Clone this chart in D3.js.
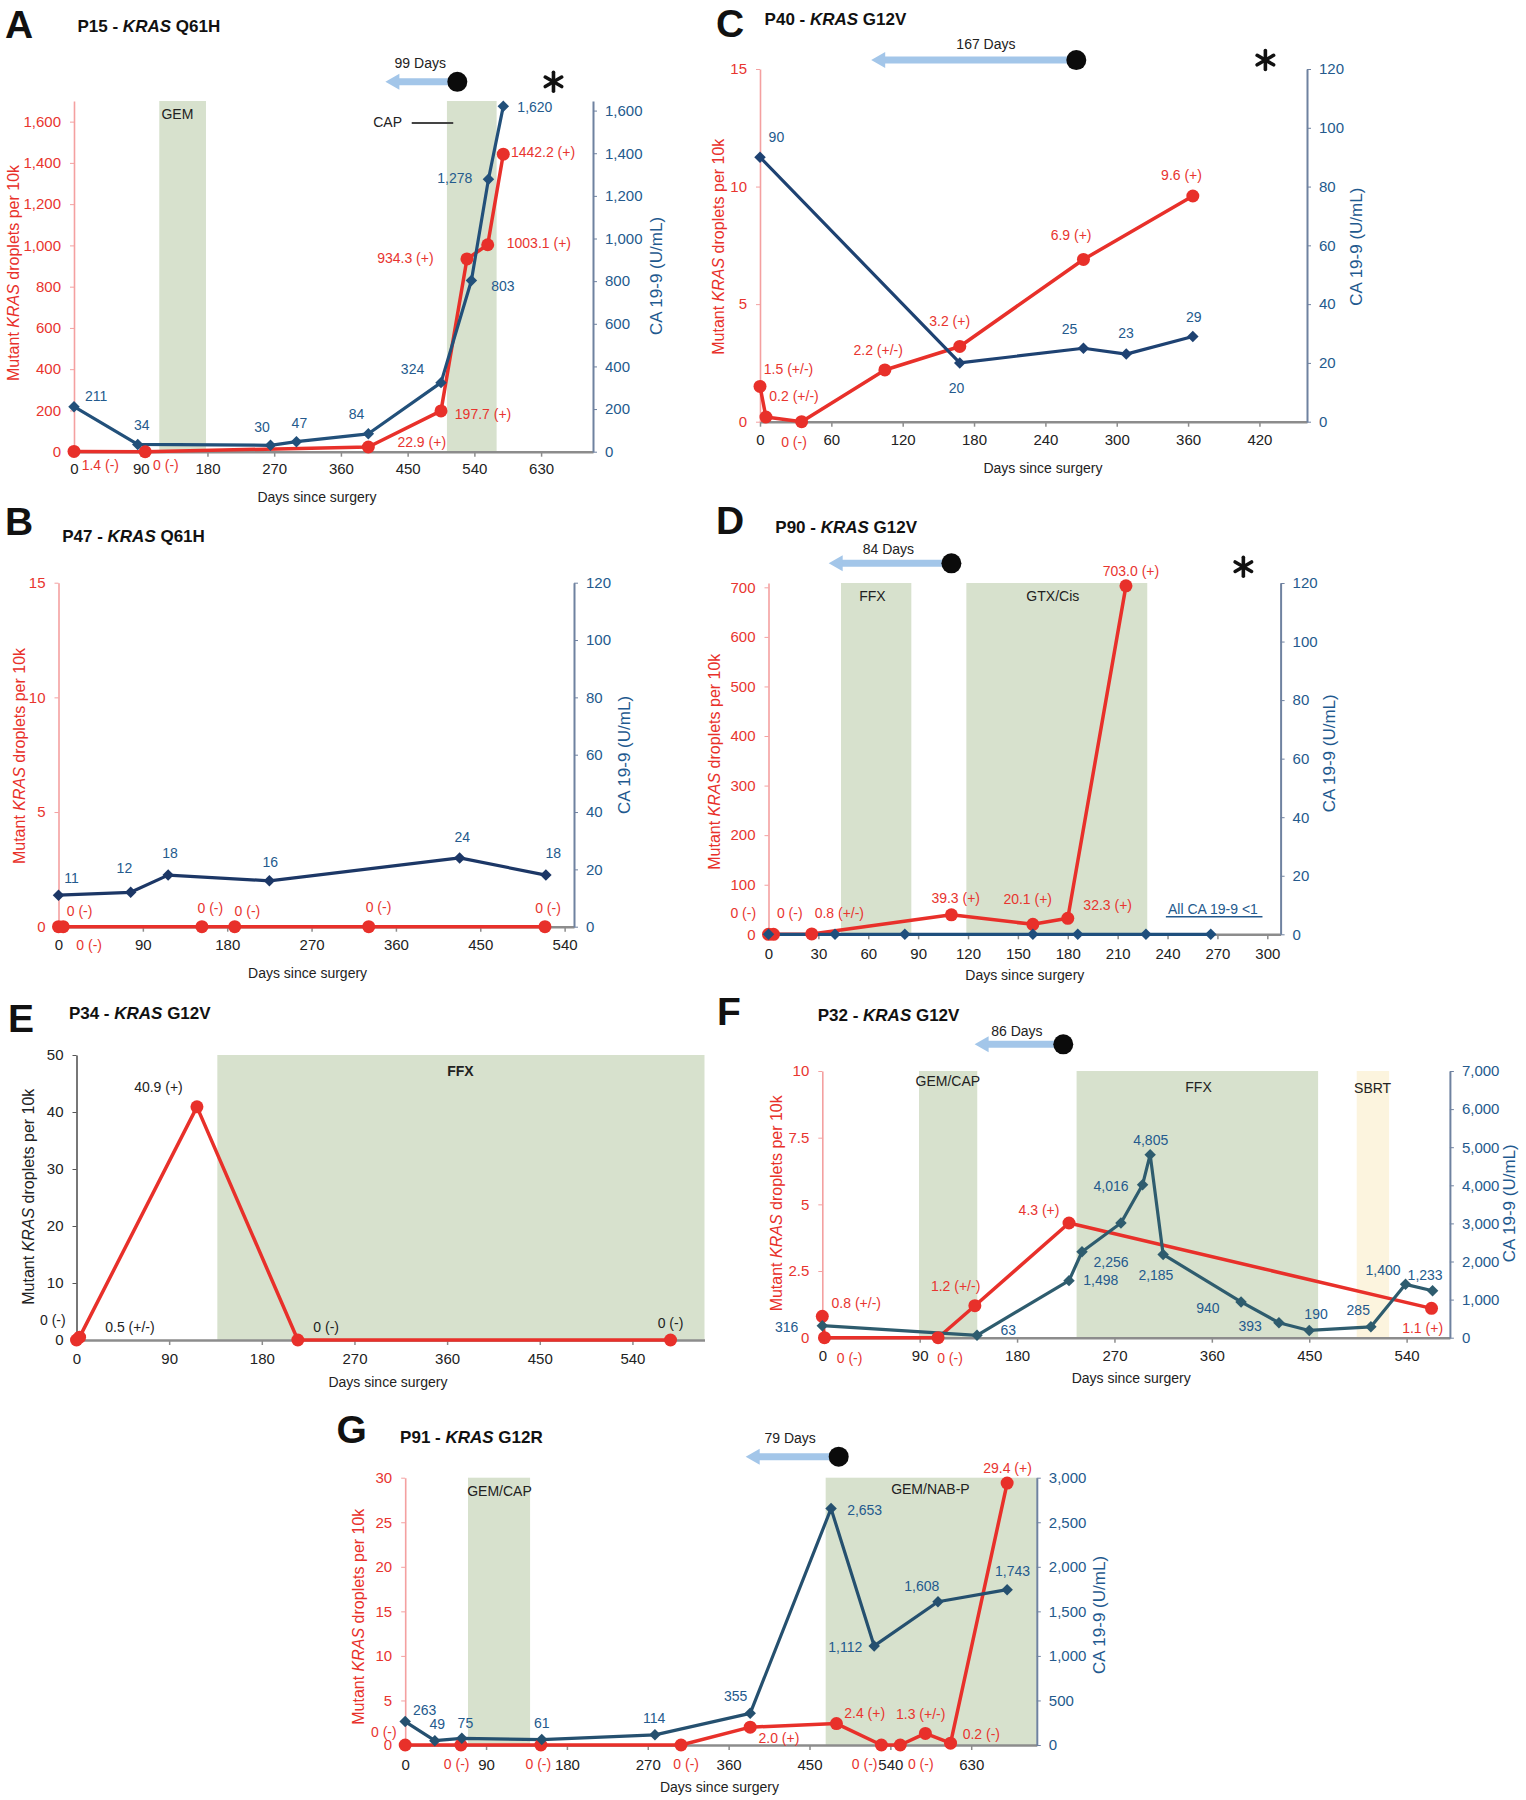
<!DOCTYPE html>
<html><head><meta charset="utf-8">
<script src="https://cdn.jsdelivr.net/npm/d3@7"></script>
<style>body{margin:0;background:#fff}</style>
</head><body>
<svg id="chart" width="1526" height="1800" style="background:#fff"></svg>
<script>
// ---------------- DATA (days since surgery / values) ----------------
// Panel A  P15 - KRAS Q61H
const A_krasDays = [0, 96, 397, 495, 530, 558, 579];
const A_krasVals = [1.4, 0, 22.9, 197.7, 934.3, 1003.1, 1442.2];
const A_caDays   = [0, 86, 265, 300, 397, 495, 536, 559, 579];
const A_caVals   = [211, 34, 30, 47, 84, 324, 803, 1278, 1620];
const A_xTicks   = [0, 90, 180, 270, 360, 450, 540, 630];
const A_yLTicks  = [0, 200, 400, 600, 800, 1000, 1200, 1400, 1600];
const A_yRTicks  = [0, 200, 400, 600, 800, 1000, 1200, 1400, 1600];
const A_bands    = [[115, 178, "tx"], [503, 570, "tx"]];
const A_bandLabels = [[139.5, 1637, "GEM"], [423, 1598, "CAP"]];
const A_krasLabels = [[35.5,-64,"1.4 (-)"],[124,-64,"0 (-)"],[469,45.6,"22.9 (+)"],[551.7,181,"197.7 (+)"],[447,940,"934.3 (+)"],[627,1010,"1003.1 (+)"],[632.6,1451,"1442.2 (+)"]];
const A_caLabels = [[30,262,"211"],[91.4,125,"34"],[253.6,117,"30"],[304,136,"47"],[381,177,"84"],[456.6,390,"324"],[578.5,776,"803"],[513.6,1285,"1,278"],[621.6,1619,"1,620"]];

// Panel B  P47 - KRAS Q61H
const B_krasDays = [0, 5, 153, 188, 331, 519];
const B_krasVals = [0, 0, 0, 0, 0, 0];
const B_caDays   = [0, 77, 117, 225, 428, 520];
const B_caVals   = [11, 12, 18, 16, 24, 18];
const B_xTicks   = [0, 90, 180, 270, 360, 450, 540];
const B_yLTicks  = [0, 5, 10, 15];
const B_yRTicks  = [0, 20, 40, 60, 80, 100, 120];
const B_krasLabels = [[22.5,0.68,"0 (-)"],[32.7,-0.8,"0 (-)"],[162,0.8,"0 (-)"],[201.6,0.68,"0 (-)"],[341.4,0.85,"0 (-)"],[522.3,0.8,"0 (-)"]];
const B_caLabels = [[14,17.1,"11"],[70.3,20.4,"12"],[119,25.6,"18"],[226,22.5,"16"],[430.8,31.4,"24"],[528,25.6,"18"]];

// Panel C  P40 - KRAS G12V
const C_krasDays = [0, 5, 35, 105, 168, 272, 364];
const C_krasVals = [1.5, 0.2, 0, 2.2, 3.2, 6.9, 9.6];
const C_caDays   = [0, 168, 272, 308, 364];
const C_caVals   = [90, 20, 25, 23, 29];
const C_xTicks   = [0, 60, 120, 180, 240, 300, 360, 420];
const C_yLTicks  = [0, 5, 10, 15];
const C_yRTicks  = [0, 20, 40, 60, 80, 100, 120];
const C_krasLabels = [[24,2.25,"1.5 (+/-)"],[28.6,1.09,"0.2 (+/-)"],[28.6,-0.85,"0 (-)"],[99.4,3.05,"2.2 (+/-)"],[159.5,4.28,"3.2 (+)"],[261.6,7.94,"6.9 (+)"],[354.5,10.49,"9.6 (+)"]];
const C_caLabels = [[13.8,97,"90"],[165.3,11.6,"20"],[260.3,31.4,"25"],[307.8,30.1,"23"],[364.8,35.7,"29"]];

// Panel D  P90 - KRAS G12V
const D_krasDays = [0, 3, 26, 110, 159, 180, 215];
const D_krasVals = [0, 0, 0.8, 39.3, 20.1, 32.3, 703.0];
const D_caDays   = [0, 40, 82, 159, 186, 227, 266];
const D_caVals   = [0, 0, 0, 0, 0, 0, 0];
const D_xTicks   = [0, 30, 60, 90, 120, 150, 180, 210, 240, 270, 300];
const D_yLTicks  = [0, 100, 200, 300, 400, 500, 600, 700];
const D_yRTicks  = [0, 20, 40, 60, 80, 100, 120];
const D_bands    = [[43.6, 85.9, "tx"], [119, 227.8, "tx"]];
const D_bandLabels = [[62.5, 682.5, "FFX"], [171, 682.5, "GTX/Cis"]];
const D_krasLabels = [[218,733.5,"703.0 (+)"],[112.6,73.8,"39.3 (+)"],[155.9,70.6,"20.1 (+)"],[204,59.1,"32.3 (+)"],[-15.2,42.4,"0 (-)"],[12.8,42.4,"0 (-)"],[42.6,42.4,"0.8 (+/-)"]];

// Panel E  P34 - KRAS G12V
const E_krasDays = [0, 3, 117, 215, 577];
const E_krasVals = [0, 0.5, 40.9, 0, 0];
const E_xTicks   = [0, 90, 180, 270, 360, 450, 540];
const E_yLTicks  = [0, 10, 20, 30, 40, 50];
const E_bands    = [[136.8, 610, "tx"]];
const E_bandLabels = [[373, 47.2, "FFX"]];
const E_krasLabels = [[79.6,44.4,"40.9 (+)"],[-23,3.5,"0 (-)"],[51.9,2.3,"0.5 (+/-)"],[242.5,2.3,"0 (-)"],[577,2.9,"0 (-)"]];

// Panel F  P32 - KRAS G12V
const F_krasDays = [0, 2, 107, 141, 228, 563];
const F_krasVals = [0.8, 0, 0, 1.2, 4.3, 1.1];
const F_caDays   = [0, 143, 228, 240, 276, 296, 303, 315, 387, 422, 450, 507, 539, 564];
const F_caVals   = [316, 63, 1498, 2256, 3010, 4016, 4805, 2185, 940, 393, 190, 285, 1400, 1233];
const F_xTicks   = [0, 90, 180, 270, 360, 450, 540];
const F_yLTicks  = [0, 2.5, 5, 7.5, 10];
const F_yRTicks  = [0, 1000, 2000, 3000, 4000, 5000, 6000, 7000];
const F_bands    = [[89.4, 143.2, "tx"], [235, 458.2, "tx"], [493.9, 523.8, "rt"]];
const F_bandLabels = [[116, 9.64, "GEM/CAP"], [347.7, 9.41, "FFX"], [508.6, 9.35, "SBRT"]];
const F_krasLabels = [[31.4,1.29,"0.8 (+/-)"],[25.2,-0.75,"0 (-)"],[118,-0.75,"0 (-)"],[123.2,1.94,"1.2 (+/-)"],[200.3,4.79,"4.3 (+)"],[554.8,0.35,"1.1 (+)"]];
const F_caLabels = [[-32.9,289,"316"],[171.8,202,"63"],[257.4,1514,"1,498"],[266.9,1995,"2,256"],[266.9,3990,"4,016"],[303.5,5189,"4,805"],[308.3,1646,"2,185"],[356.4,772,"940"],[395.4,307,"393"],[456.3,614,"190"],[495.3,727,"285"],[518.2,1777,"1,400"],[557.1,1646,"1,233"]];

// Panel G  P91 - KRAS G12R
const G_krasDays = [0, 62, 151, 307, 384, 480, 530, 551, 579, 607, 670];
const G_krasVals = [0, 0, 0, 0, 2.0, 2.4, 0, 0, 1.3, 0.2, 29.4];
const G_caDays   = [0, 33, 63, 152, 278, 384, 474, 522, 593, 670];
const G_caVals   = [263, 49, 75, 61, 114, 355, 2653, 1112, 1608, 1743];
const G_xTicks   = [0, 90, 180, 270, 360, 450, 540, 630];
const G_yLTicks  = [0, 5, 10, 15, 20, 25, 30];
const G_yRTicks  = [0, 500, 1000, 1500, 2000, 2500, 3000];
const G_bands    = [[69.9, 139, "tx"], [468, 703, "tx"]];
const G_bandLabels = [[105, 28.54, "GEM/CAP"], [584.6, 28.7, "GEM/NAB-P"]];
const G_krasLabels = [[-23.8,1.49,"0 (-)"],[57.3,-2.13,"0 (-)"],[148.2,-2.13,"0 (-)"],[312.7,-2.13,"0 (-)"],[416,0.75,"2.0 (+)"],[511.4,3.56,"2.4 (+)"],[511.4,-2.13,"0 (-)"],[573.8,3.45,"1.3 (+/-)"],[573.8,-2.13,"0 (-)"],[641.3,1.2,"0.2 (-)"],[670.4,31.12,"29.4 (+)"]];
const G_caLabels = [[21.6,393,"263"],[35.7,232,"49"],[67,244,"75"],[152,244,"61"],[277,300,"114"],[367.8,550,"355"],[511.4,2637,"2,653"],[489.8,1103,"1,112"],[575,1785,"1,608"],[676,1956,"1,743"]];

// ---------------- STYLE ----------------
const FONT = "'Liberation Sans', Arial, Helvetica, sans-serif";
const RED = "#e8302a", REDTXT = "#e8352f", BLUETXT = "#245a8d", BLUETITLE = "#1f5a8f";
const LAXIS = "#f4a0a0", RAXIS = "#6f82a0", XAXIS = "#8c8c8c";
const GREEN = "#d7e1cd", SBRT_FILL = "#fcf4de", ARROW = "#a3c6e9";

const svg = d3.select("#chart").attr("font-family", FONT);

const panels = [
 {letter:"A", lx:5, ly:24.5, title:["P15 - ","KRAS"," Q61H"], tx:77.5, ty:25.7,
  x0:74, x1:593, xMax:700, yb:451.7, yt:101, yLmax:1700, yRmax:1645,
  xTicks:A_xTicks, yLTicks:A_yLTicks, yRTicks:A_yRTicks, fmtL:",", fmtR:",",
  kras:[A_krasDays,A_krasVals], ca:[A_caDays,A_caVals], caColor:"#22507a",
  krasLabels:A_krasLabels, caLabels:A_caLabels, bands:A_bands, bandLabels:A_bandLabels,
  leader:[455.5,511.5,1593], arrow:{tip:420,dot:517,y:1793,text:"99 Days",ld:467,ly:1886}, star:[646.7,1793],
  lt:[13.3,273], rt:[656.7,276], xt:[317,496.7], tickOff:16.6},
 {letter:"B", lx:5, ly:521.5, title:["P47 - ","KRAS"," Q61H"], tx:62.2, ty:536,
  x0:58.5, x1:574, xMax:550, yb:926.7, yt:582.7, yLmax:15, yRmax:120,
  xTicks:B_xTicks, yLTicks:B_yLTicks, yRTicks:B_yRTicks, fmtL:"", fmtR:"",
  kras:[B_krasDays,B_krasVals], ca:[B_caDays,B_caVals], caColor:"#1c3766",
  krasLabels:B_krasLabels, caLabels:B_caLabels, bands:[], bandLabels:[],
  lt:[19,756], rt:[624,755], xt:[307.6,973.3], tickOff:18.3},
 {letter:"C", lx:716, ly:23.3, title:["P40 - ","KRAS"," G12V"], tx:764.6, ty:19,
  x0:760, x1:1307, xMax:460, yb:421.7, yt:69, yLmax:15, yRmax:120,
  xTicks:C_xTicks, yLTicks:C_yLTicks, yRTicks:C_yRTicks, fmtL:"", fmtR:"",
  kras:[C_krasDays,C_krasVals], ca:[C_caDays,C_caVals], caColor:"#1e4272",
  krasLabels:C_krasLabels, caLabels:C_caLabels, bands:[], bandLabels:[],
  arrow:{tip:93.5,dot:266,y:15.38,text:"167 Days",ld:190,ly:16.05}, star:[425,15.38],
  lt:[717.7,246.7], rt:[1356.3,246.7], xt:[1042.9,468.3], tickOff:18.3},
 {letter:"D", lx:716, ly:520, title:["P90 - ","KRAS"," G12V"], tx:775.3, ty:526.7,
  x0:768.5, x1:1280.6, xMax:308, yb:934.3, yt:583, yLmax:708.7, yRmax:120,
  xTicks:D_xTicks, yLTicks:D_yLTicks, yRTicks:D_yRTicks, fmtL:"", fmtR:"",
  kras:[D_krasDays,D_krasVals], ca:[D_caDays,D_caVals], caColor:"#1f4f7d",
  krasLabels:D_krasLabels, caLabels:[], bands:D_bands, bandLabels:D_bandLabels,
  arrow:{tip:36.2,dot:110,y:748.4,text:"84 Days",ld:72.1,ly:776.7}, star:[285.6,741.6],
  note:{text:"All CA 19-9 <1", d:267.3, v:50.4, u0:239, u1:297.1, uv:35.5},
  lt:[714,761.7], rt:[1329.7,753.3], xt:[1024.8,975], tickOff:19},
 {letter:"E", lx:8, ly:1018.3, title:["P34 - ","KRAS"," G12V"], tx:68.9, ty:1013.3,
  x0:76.5, x1:704.5, xMax:610, yb:1340, yt:1055, yLmax:50,
  xTicks:E_xTicks, yLTicks:E_yLTicks, fmtL:"",
  kras:[E_krasDays,E_krasVals], krasLabels:E_krasLabels, bands:E_bands, bandLabels:E_bandLabels,
  mono:true, bandBold:true,
  lt:[27.5,1196.7], xt:[388,1381.7], tickOff:18.3},
 {letter:"F", lx:717, ly:1011.7, title:["P32 - ","KRAS"," G12V"], tx:817.7, ty:1015,
  x0:822.3, x1:1449.9, xMax:580, yb:1337.7, yt:1071, yLmax:10, yRmax:7000,
  xTicks:F_xTicks, yLTicks:F_yLTicks, yRTicks:F_yRTicks, fmtL:"", fmtR:",",
  kras:[F_krasDays,F_krasVals], ca:[F_caDays,F_caVals], caColor:"#2e5c6e",
  krasLabels:F_krasLabels, caLabels:F_caLabels, bands:F_bands, bandLabels:F_bandLabels,
  arrow:{tip:140.8,dot:222.7,y:11.0,text:"86 Days",ld:179.8,ly:11.5},
  lt:[775.5,1203.3], rt:[1509,1203.3], xt:[1131.2,1378.3], tickOff:18.3},
 {letter:"G", lx:336.5, ly:1429.5, title:["P91 - ","KRAS"," G12R"], tx:400.1, ty:1436.7,
  x0:405.2, x1:1036.8, xMax:703, yb:1745, yt:1477.7, yLmax:30, yRmax:3000,
  xTicks:G_xTicks, yLTicks:G_yLTicks, yRTicks:G_yRTicks, fmtL:"", fmtR:",",
  kras:[G_krasDays,G_krasVals], ca:[G_caDays,G_caVals], caColor:"#25506f",
  krasLabels:G_krasLabels, caLabels:G_caLabels, bands:G_bands, bandLabels:G_bandLabels,
  arrow:{tip:379,dot:482.5,y:32.36,text:"79 Days",ld:428.5,ly:34.42},
  lt:[358.3,1616.7], rt:[1099,1615], xt:[719.5,1787.3], tickOff:19}
];

function kText(sel, parts){
  sel.append("tspan").text(parts[0]);
  sel.append("tspan").attr("font-style","italic").text(parts[1]);
  sel.append("tspan").text(parts[2]);
}

function drawStar(g, cx, cy){
  [90, 30, -30].forEach(a => {
    const r = 9.5, dx = r*Math.cos(a*Math.PI/180), dy = r*Math.sin(a*Math.PI/180);
    g.append("line").attr("x1",cx-dx).attr("y1",cy-dy).attr("x2",cx+dx).attr("y2",cy+dy)
      .attr("stroke","#111").attr("stroke-width",3.6).attr("stroke-linecap","round");
  });
}

function drawPanel(p){
  const g = svg.append("g");
  const x = d3.scaleLinear().domain([0,p.xMax]).range([p.x0,p.x1]);
  const yL = d3.scaleLinear().domain([0,p.yLmax]).range([p.yb,p.yt]);
  const yR = p.yRmax ? d3.scaleLinear().domain([0,p.yRmax]).range([p.yb,p.yt]) : null;
  const txtCol = p.mono ? "#222" : REDTXT;

  // panel letter + title
  g.append("text").attr("x",p.lx).attr("y",p.ly).attr("dominant-baseline","central")
    .attr("font-size",39).attr("font-weight","bold").attr("fill","#111").text(p.letter);
  kText(g.append("text").attr("x",p.tx).attr("y",p.ty).attr("dominant-baseline","central")
    .attr("font-size",17).attr("font-weight","bold").attr("fill","#111"), p.title);

  // treatment bands
  g.selectAll("rect.band").data(p.bands).join("rect").attr("class","band")
    .attr("x",d=>x(d[0])).attr("width",d=>x(d[1])-x(d[0]))
    .attr("y",p.yt).attr("height",p.yb-p.yt)
    .attr("fill",d=>d[2]==="rt"?SBRT_FILL:GREEN);
  g.selectAll("text.bl").data(p.bandLabels).join("text").attr("class","bl")
    .attr("x",d=>x(d[0])).attr("y",d=>yL(d[1])).attr("text-anchor","middle")
    .attr("dominant-baseline","central").attr("font-size",14)
    .attr("font-weight",p.bandBold?"bold":"normal").attr("fill","#222").text(d=>d[2]);
  if(p.leader){
    g.append("line").attr("x1",x(p.leader[0])).attr("x2",x(p.leader[1]))
      .attr("y1",yL(p.leader[2])).attr("y2",yL(p.leader[2])).attr("stroke","#444").attr("stroke-width",2);
  }

  // x axis
  const gx = g.append("g").attr("transform",`translate(0,${p.yb})`)
    .call(d3.axisBottom(x).tickValues(p.xTicks).tickSize(5).tickSizeOuter(0).tickFormat(d3.format("d")));
  gx.attr("font-family",FONT).attr("font-size",15);
  gx.select(".domain").attr("stroke",XAXIS).attr("stroke-width",2.5);
  gx.selectAll(".tick line").attr("stroke",XAXIS).attr("stroke-width",1.5);
  gx.selectAll(".tick text").attr("y",p.tickOff).attr("dy",null).attr("dominant-baseline","central").attr("fill","#222");

  // left axis
  const gl = g.append("g").attr("transform",`translate(${p.x0},0)`)
    .call(d3.axisLeft(yL).tickValues(p.yLTicks).tickSize(4).tickPadding(9).tickSizeOuter(0).tickFormat(d3.format(p.fmtL)));
  gl.attr("font-family",FONT).attr("font-size",15);
  gl.select(".domain").attr("stroke",p.mono?"#555":LAXIS).attr("stroke-width",1.6);
  gl.selectAll(".tick line").attr("stroke",p.mono?"#555":LAXIS);
  gl.selectAll(".tick text").attr("fill",txtCol);

  // right axis
  if(yR){
    const gr = g.append("g").attr("transform",`translate(${p.x1},0)`)
      .call(d3.axisRight(yR).tickValues(p.yRTicks).tickSize(4).tickPadding(8).tickSizeOuter(0).tickFormat(d3.format(p.fmtR)));
    gr.attr("font-family",FONT).attr("font-size",15);
    gr.select(".domain").attr("stroke",RAXIS).attr("stroke-width",2);
    gr.selectAll(".tick line").attr("stroke",RAXIS);
    gr.selectAll(".tick text").attr("fill",BLUETXT);
    g.append("text").attr("transform",`translate(${p.rt[0]},${p.rt[1]}) rotate(-90)`)
      .attr("text-anchor","middle").attr("dominant-baseline","central").attr("font-size",17)
      .attr("fill",BLUETITLE).text("CA 19-9 (U/mL)");
  }

  // axis titles
  kText(g.append("text").attr("transform",`translate(${p.lt[0]},${p.lt[1]}) rotate(-90)`)
    .attr("text-anchor","middle").attr("dominant-baseline","central").attr("font-size",16)
    .attr("fill",p.mono?"#222":RED), ["Mutant ","KRAS"," droplets per 10k"]);
  g.append("text").attr("x",p.xt[0]).attr("y",p.xt[1]).attr("text-anchor","middle")
    .attr("dominant-baseline","central").attr("font-size",14).attr("fill","#222").text("Days since surgery");

  // series
  const krasPts = d3.zip(p.kras[0], p.kras[1]);
  const lineL = d3.line().x(d=>x(d[0])).y(d=>yL(d[1]));
  g.append("path").datum(krasPts).attr("d",lineL).attr("fill","none")
    .attr("stroke",RED).attr("stroke-width",3.5).attr("stroke-linejoin","round");
  let caPts = null;
  if(p.ca){
    caPts = d3.zip(p.ca[0], p.ca[1]);
    const lineR = d3.line().x(d=>x(d[0])).y(d=>yR(d[1]));
    g.append("path").datum(caPts).attr("d",lineR).attr("fill","none")
      .attr("stroke",p.caColor).attr("stroke-width",3.2).attr("stroke-linejoin","round");
  }
  g.selectAll("circle.k").data(krasPts).join("circle").attr("class","k")
    .attr("cx",d=>x(d[0])).attr("cy",d=>yL(d[1])).attr("r",6.5).attr("fill",RED);
  if(caPts){
    const sym = d3.symbol(d3.symbolSquare).size(66);
    g.selectAll("path.c").data(caPts).join("path").attr("class","c")
      .attr("d",sym).attr("fill",p.caColor)
      .attr("transform",d=>`translate(${x(d[0])},${yR(d[1])}) rotate(45)`);
  }

  // value labels
  g.selectAll("text.kl").data(p.krasLabels).join("text").attr("class","kl")
    .attr("x",d=>x(d[0])).attr("y",d=>yL(d[1])).attr("text-anchor","middle")
    .attr("dominant-baseline","central").attr("font-size",14).attr("fill",txtCol).text(d=>d[2]);
  if(p.caLabels && yR){
    g.selectAll("text.cl").data(p.caLabels).join("text").attr("class","cl")
      .attr("x",d=>x(d[0])).attr("y",d=>yR(d[1])).attr("text-anchor","middle")
      .attr("dominant-baseline","central").attr("font-size",14).attr("fill",BLUETXT).text(d=>d[2]);
  }

  // note (panel D)
  if(p.note){
    g.append("text").attr("x",x(p.note.d)).attr("y",yL(p.note.v)).attr("text-anchor","middle")
      .attr("dominant-baseline","central").attr("font-size",14).attr("fill",BLUETXT).text(p.note.text);
    g.append("line").attr("x1",x(p.note.u0)).attr("x2",x(p.note.u1))
      .attr("y1",yL(p.note.uv)).attr("y2",yL(p.note.uv)).attr("stroke",BLUETXT).attr("stroke-width",1.6);
  }

  // lead-time arrow
  if(p.arrow){
    const a = p.arrow, ay = yL(a.y), xt = x(a.tip), xd = x(a.dot);
    g.append("line").attr("x1",xt+11).attr("x2",xd).attr("y1",ay).attr("y2",ay)
      .attr("stroke",ARROW).attr("stroke-width",7);
    g.append("path").attr("d",`M${xt},${ay}L${xt+14},${ay-8}L${xt+14},${ay+8}Z`).attr("fill",ARROW);
    g.append("circle").attr("cx",xd).attr("cy",ay).attr("r",10).attr("fill","#0b0b0b");
    g.append("text").attr("x",x(a.ld)).attr("y",yL(a.ly)).attr("text-anchor","middle")
      .attr("dominant-baseline","central").attr("font-size",14).attr("fill","#222").text(a.text);
  }
  if(p.star) drawStar(g, x(p.star[0]), yL(p.star[1]));
}

panels.forEach(drawPanel);
</script>
</body></html>
